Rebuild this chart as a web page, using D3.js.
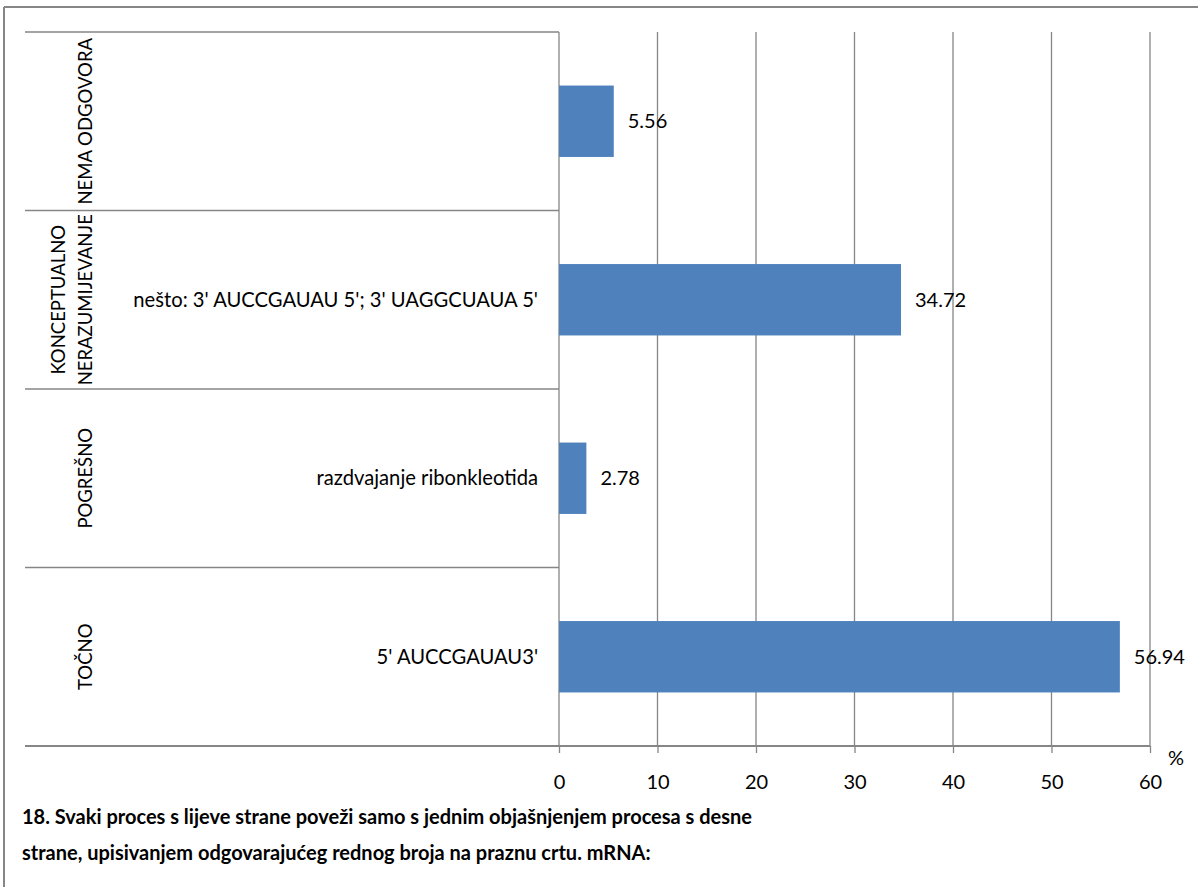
<!DOCTYPE html>
<html>
<head>
<meta charset="utf-8">
<script src="https://cdn.jsdelivr.net/npm/d3@7"></script>
<style>
  html, body { margin: 0; padding: 0; background: #fff; }
  svg { display: block; }
  text { font-family: Lato, "Noto Sans", sans-serif; fill: #000; }
</style>
</head>
<body>
<svg id="chart" width="1198" height="887"></svg>
<script>
// ---- data ----
const categories = ["NEMA ODGOVORA", "KONCEPTUALNO NERAZUMIJEVANJE", "POGREŠNO", "TOČNO"];
const categoryLines = [["NEMA ODGOVORA"], ["KONCEPTUALNO", "NERAZUMIJEVANJE"], ["POGREŠNO"], ["TOČNO"]];
const answers = ["", "nešto: 3' AUCCGAUAU 5'; 3' UAGGCUAUA 5'", "razdvajanje ribonkleotida", "5' AUCCGAUAU3'"];
const values = [5.56, 34.72, 2.78, 56.94];
const xTicks = [0, 10, 20, 30, 40, 50, 60];
const axisUnit = "%";
const titleLines = [
  "18. Svaki proces s lijeve strane poveži samo s jednim objašnjenjem procesa s desne",
  "strane, upisivanjem odgovarajućeg rednog broja na praznu crtu. mRNA:"
];

// ---- layout ----
const svg = d3.select("#chart");
const gridColor = "#868686";
const barColor = "#4F81BD";
const plotLeft = 559, plotRight = 1150, plotTop = 32, plotBottom = 746;
const tableLeft = 25;

const x = d3.scaleLinear().domain([0, 60]).range([plotLeft, plotRight]);
const y = d3.scaleBand().domain(categories).range([plotTop, plotBottom])
  .paddingInner(0.6).paddingOuter(0.3);
const step = y.step();

// outer frame (left + top edges visible)
svg.append("line").attr("x1", 4).attr("x2", 4).attr("y1", 7).attr("y2", 887)
  .attr("stroke", gridColor).attr("stroke-width", 2);
svg.append("line").attr("x1", 4).attr("x2", 1198).attr("y1", 7).attr("y2", 7)
  .attr("stroke", gridColor).attr("stroke-width", 2);

// vertical gridlines
svg.append("g").selectAll("line").data(xTicks).join("line")
  .attr("x1", d => x(d)).attr("x2", d => x(d))
  .attr("y1", plotTop).attr("y2", plotBottom)
  .attr("stroke", gridColor).attr("stroke-width", 1.3);

// category divider lines in the label table
const dividers = categories.map(c => y(c) - (step - y.bandwidth()) / 2);
svg.append("g").selectAll("line").data(dividers).join("line")
  .attr("x1", tableLeft).attr("x2", plotLeft)
  .attr("y1", d => d).attr("y2", d => d)
  .attr("stroke", gridColor).attr("stroke-width", 1.5);

// bottom axis
const xAxis = d3.axisBottom(x).tickValues(xTicks).tickSize(7).tickPadding(22);
const axisG = svg.append("g").attr("transform", `translate(0,${plotBottom})`).call(xAxis);
axisG.select(".domain").remove();
axisG.selectAll(".tick line").attr("stroke", gridColor).attr("stroke-width", 1.3);
axisG.selectAll(".tick text").attr("font-size", 20).attr("font-family", "Lato, sans-serif").attr("fill", "#000");
svg.append("line").attr("x1", tableLeft).attr("x2", plotRight)
  .attr("y1", plotBottom).attr("y2", plotBottom)
  .attr("stroke", gridColor).attr("stroke-width", 1.8);
svg.append("text").attr("x", 1176).attr("y", 765).attr("text-anchor", "middle")
  .attr("font-size", 20).text(axisUnit);

// bars
const rows = categories.map((c, i) => ({ c, v: values[i], a: answers[i], lines: categoryLines[i] }));
svg.append("g").selectAll("rect").data(rows).join("rect")
  .attr("x", x(0)).attr("y", d => y(d.c))
  .attr("width", d => x(d.v) - x(0)).attr("height", y.bandwidth())
  .attr("fill", barColor);

// value labels
svg.append("g").selectAll("text").data(rows).join("text")
  .attr("x", d => x(d.v) + 14).attr("y", d => y(d.c) + y.bandwidth() / 2)
  .attr("dy", "0.35em").attr("font-size", 20).text(d => d.v.toFixed(2));

// answer labels
svg.append("g").selectAll("text").data(rows).join("text")
  .attr("x", 538).attr("y", d => y(d.c) + y.bandwidth() / 2)
  .attr("dy", "0.35em").attr("text-anchor", "end").attr("font-size", 20.2).text(d => d.a);

// rotated category labels
const catG = svg.append("g").selectAll("g").data(rows).join("g")
  .attr("transform", d => `translate(92,${y(d.c) + y.bandwidth() / 2}) rotate(-90)`);
catG.selectAll("text").data(d => d.lines.map((t, i) => ({ t, off: (i - (d.lines.length - 1)) * 27 })))
  .join("text").attr("x", 0).attr("y", d => d.off)
  .attr("text-anchor", "middle").attr("font-size", 18.5).text(d => d.t);

// title
svg.append("g").selectAll("text").data(titleLines).join("text")
  .attr("x", 22).attr("y", (d, i) => 824 + i * 36)
  .attr("font-size", 20).attr("font-weight", "bold").text(d => d);
</script>
</body>
</html>
